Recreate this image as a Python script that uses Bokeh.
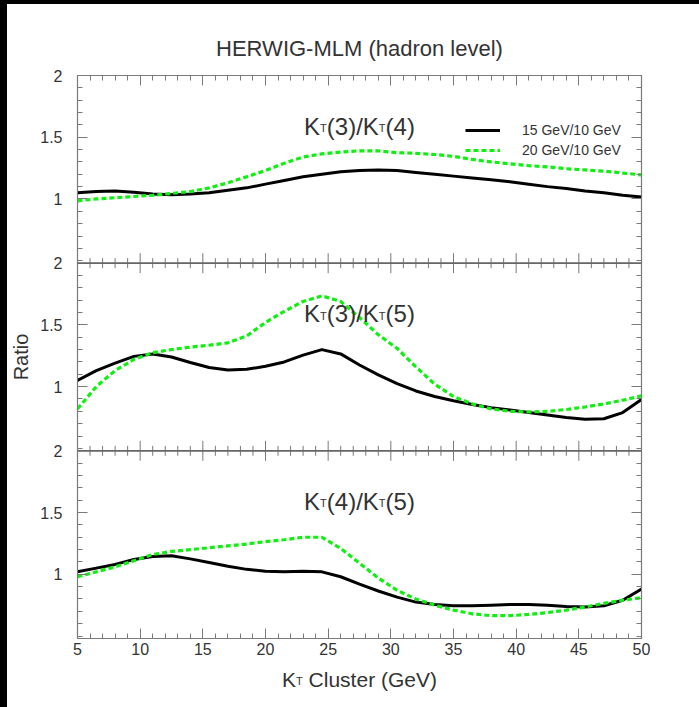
import numpy as np
from bokeh.plotting import figure
from bokeh.models import (Range1d, LinearAxis, FixedTicker, Label, Span, Legend,
                          LegendItem, Spacer, CustomJSTickFormatter)
from bokeh.layouts import row, column
from bokeh.embed import file_html
from bokeh.resources import INLINE

# ---------------- data ----------------
kt = [5, 6.5, 8, 9.5, 11, 12.5, 14, 15.5, 17, 18.5, 20, 21.5, 23, 24.5, 26, 27.5,
      29, 30.5, 32, 33.5, 35, 36.5, 38, 39.5, 41, 42.5, 44, 45.5, 47, 48.5, 50]

# K_T(3)/K_T(4)
r34_15 = [1.05, 1.06, 1.065, 1.055, 1.04, 1.035, 1.04, 1.05, 1.07, 1.09, 1.12, 1.15,
          1.18, 1.20, 1.22, 1.23, 1.235, 1.23, 1.215, 1.20, 1.185, 1.17, 1.155, 1.14,
          1.12, 1.10, 1.085, 1.065, 1.05, 1.03, 1.015]
r34_20 = [0.985, 1.00, 1.01, 1.02, 1.03, 1.045, 1.06, 1.09, 1.13, 1.18, 1.23, 1.29,
          1.34, 1.365, 1.38, 1.39, 1.39, 1.375, 1.37, 1.36, 1.345, 1.32, 1.30, 1.285,
          1.27, 1.26, 1.245, 1.235, 1.225, 1.21, 1.195]
# K_T(3)/K_T(5)
r35_15 = [1.05, 1.13, 1.19, 1.245, 1.265, 1.24, 1.195, 1.155, 1.135, 1.14, 1.165, 1.20,
          1.255, 1.30, 1.265, 1.175, 1.095, 1.025, 0.965, 0.92, 0.885, 0.855, 0.83, 0.81,
          0.79, 0.77, 0.75, 0.735, 0.74, 0.79, 0.895]
r35_20 = [0.82, 1.00, 1.13, 1.22, 1.275, 1.30, 1.32, 1.335, 1.355, 1.41, 1.52, 1.61,
          1.69, 1.735, 1.69, 1.56, 1.42, 1.31, 1.16, 1.02, 0.92, 0.86, 0.82, 0.80,
          0.795, 0.80, 0.815, 0.835, 0.86, 0.89, 0.925]
# K_T(4)/K_T(5)
r45_15 = [1.02, 1.05, 1.08, 1.12, 1.145, 1.15, 1.125, 1.095, 1.065, 1.04, 1.025, 1.02,
          1.025, 1.02, 0.98, 0.92, 0.865, 0.815, 0.775, 0.755, 0.745, 0.745, 0.75, 0.755,
          0.755, 0.75, 0.74, 0.735, 0.745, 0.79, 0.88]
r45_20 = [0.98, 1.02, 1.06, 1.11, 1.16, 1.185, 1.20, 1.215, 1.23, 1.245, 1.265, 1.28,
          1.30, 1.30, 1.21, 1.09, 0.97, 0.87, 0.80, 0.75, 0.71, 0.68, 0.665, 0.665,
          0.675, 0.69, 0.71, 0.735, 0.765, 0.79, 0.81]

series_names = ["15 GeV/10 GeV", "20 GeV/10 GeV"]
panel_titles = [("3", "4"), ("3", "5"), ("4", "5")]
x_major = [5, 10, 15, 20, 25, 30, 35, 40, 45, 50]
x_minor = list(range(5, 51))
y_major_vals = [1.0, 1.5, 2.0]
y_major_text = ["1", "1.5", "2"]
y_minor_vals = [0.5, 0.6, 0.7, 0.8, 0.9, 1.1, 1.2, 1.3, 1.4, 1.6, 1.7, 1.8, 1.9]

# ---------------- styling ----------------
Y_LO, Y_HI = 0.48, 2.0
SPAN = Y_HI - Y_LO
TXT = "#333333"
AX = "#7a7a7a"
GREEN = "#11ee11"
FONT = "Liberation Sans"

p = figure(width=692, height=659, x_range=Range1d(5, 50), y_range=Range1d(0, 3),
           output_backend="svg", toolbar_location=None,
           min_border_left=70, min_border_right=58, min_border_top=71, min_border_bottom=25)
p.grid.visible = False
p.background_fill_color = "white"
p.border_fill_color = "white"
p.outline_line_color = AX
p.outline_line_width = 1.2

p.title.text = "HERWIG-MLM (hadron level)"
p.title.align = "center"
p.title.text_font = FONT
p.title.text_font_size = "22px"
p.title.text_font_style = "normal"
p.title.text_color = TXT
p.title.standoff = 30

p.extra_y_ranges = {
    "top": Range1d(Y_LO - 2 * SPAN, Y_HI),
    "mid": Range1d(Y_LO - SPAN, Y_HI + SPAN),
    "bot": Range1d(Y_LO, Y_HI + 2 * SPAN),
}
panel_ranges = ["top", "mid", "bot"]


def ppos(i, v):
    # position on the stacked (panel-unit) left axis
    return round((2 - i) + (v - Y_LO) / SPAN, 6)


maj_pos, overrides, min_pos = [], {}, []
for i in range(3):
    for v, t in zip(y_major_vals, y_major_text):
        pos = ppos(i, v)
        maj_pos.append(pos)
        overrides[pos] = t
    for v in y_minor_vals:
        min_pos.append(ppos(i, v))

yt = FixedTicker(ticks=maj_pos, minor_ticks=min_pos)
xt = FixedTicker(ticks=x_major, minor_ticks=x_minor)
blank = CustomJSTickFormatter(code="return ''")


def style_axis(ax, labels):
    ax.axis_line_color = AX
    ax.major_tick_line_color = AX
    ax.minor_tick_line_color = AX
    ax.major_tick_in = 10
    ax.major_tick_out = 0
    ax.minor_tick_in = 5
    ax.minor_tick_out = 0
    ax.axis_label = None
    if labels:
        ax.major_label_text_font = FONT
        ax.major_label_text_font_size = "16px"
        ax.major_label_text_color = TXT
    else:
        ax.formatter = blank
        ax.major_label_standoff = 0


xb = p.xaxis[0]
xb.ticker = xt
style_axis(xb, True)
xb.major_label_standoff = 4

yl = p.yaxis[0]
yl.ticker = yt
style_axis(yl, True)
yl.major_label_overrides = overrides
yl.major_label_standoff = 15
yl.axis_label = "Ratio"
yl.axis_label_text_font = FONT
yl.axis_label_text_font_size = "20px"
yl.axis_label_text_font_style = "normal"
yl.axis_label_text_color = TXT
yl.axis_label_standoff = 5

xa = LinearAxis(ticker=xt)
style_axis(xa, False)
p.add_layout(xa, "above")
yr_ax = LinearAxis(ticker=yt)
style_axis(yr_ax, False)
p.add_layout(yr_ax, "right")

# panel boundaries and their ticks
for rn in ["mid", "bot"]:
    p.add_layout(Span(location=Y_HI, dimension="width", y_range_name=rn,
                      line_color="#666666", line_width=1.8))
    p.scatter(x=x_major, y=[Y_HI] * len(x_major), y_range_name=rn, marker="dash",
              angle=np.pi / 2, size=20, line_color=AX, line_width=1)
    mx = [v for v in x_minor if v not in x_major]
    p.scatter(x=mx, y=[Y_HI] * len(mx), y_range_name=rn, marker="dash",
              angle=np.pi / 2, size=10, line_color=AX, line_width=1)

# curves
data = [(r34_15, r34_20), (r35_15, r35_20), (r45_15, r45_20)]
legend_rs = []
for rn, (a, b) in zip(panel_ranges, data):
    r1 = p.line(kt, a, y_range_name=rn, line_color="black", line_width=3,
                line_join="round")
    r2 = p.line(kt, b, y_range_name=rn, line_color=GREEN, line_width=3.2,
                line_dash="5 3", line_join="round")
    if not legend_rs:
        legend_rs = [r1, r2]

legend = Legend(items=[LegendItem(label=series_names[0], renderers=[legend_rs[0]]),
                       LegendItem(label=series_names[1], renderers=[legend_rs[1]])],
                location=(388, 480), glyph_width=35, glyph_height=16, label_height=16,
                label_standoff=22, spacing=4, padding=0, margin=0,
                border_line_alpha=0, background_fill_alpha=0,
                label_text_font=FONT, label_text_font_size="14px",
                label_text_color=TXT)
p.add_layout(legend)

# text with subscript T
W = {'K': 667, 'T': 611, '(': 333, ')': 333, '/': 278, '3': 556, '4': 556, '5': 556,
     ' ': 278, 'C': 722, 'l': 222, 'u': 556, 's': 500, 't': 278, 'e': 556, 'r': 333,
     'G': 778, 'V': 667}


def tw(s, size):
    return sum(W[c] for c in s) * size / 1000.0


def rich(fig, parts, x, y, rn, size, sub_size, drop):
    # parts: (text, is_subscript, leading gap in em of the main size)
    total = sum(tw(t, sub_size if s else size) + g * size for t, s, g in parts)
    off = -total / 2.0
    for t, s, g in parts:
        off += g * size
        fs = sub_size if s else size
        kw = {} if rn is None else {"y_range_name": rn}
        fig.add_layout(Label(x=x, y=y, text=t, x_offset=off, y_offset=(-drop if s else 0),
                             text_font=FONT, text_font_size=f"{fs}px", text_color=TXT,
                             text_align="left", text_baseline="alphabetic", **kw))
        off += tw(t, fs)


for rn, (n1, n2) in zip(panel_ranges, panel_titles):
    rich(p, [("K", False, 0), ("T", True, 0), (f"({n1})/K", False, 0), ("T", True, 0),
             (f"({n2})", False, 0)], 27.5, 1.59, rn, 24, 11, 2)

# x-axis title (with subscript) in a strip below the plot
q = figure(width=692, height=44, x_range=p.x_range, y_range=Range1d(0, 1),
           output_backend="svg", toolbar_location=None,
           min_border_left=70, min_border_right=58, min_border_top=0, min_border_bottom=0)
q.axis.visible = False
q.grid.visible = False
q.outline_line_color = None
q.background_fill_color = "white"
q.border_fill_color = "white"
rich(q, [("K", False, 0), ("T", True, 0), ("Cluster (GeV)", False, 0.278)],
     27.5, 0.64, None, 21, 11, 2)

left_strip = Spacer(width=7, height=707, styles={"background-color": "black"})
top_strip = Spacer(width=692, height=4, styles={"background-color": "black"})
layout = row(left_strip, column(top_strip, p, q))

open("out.html", "w").write(file_html(layout, INLINE))
